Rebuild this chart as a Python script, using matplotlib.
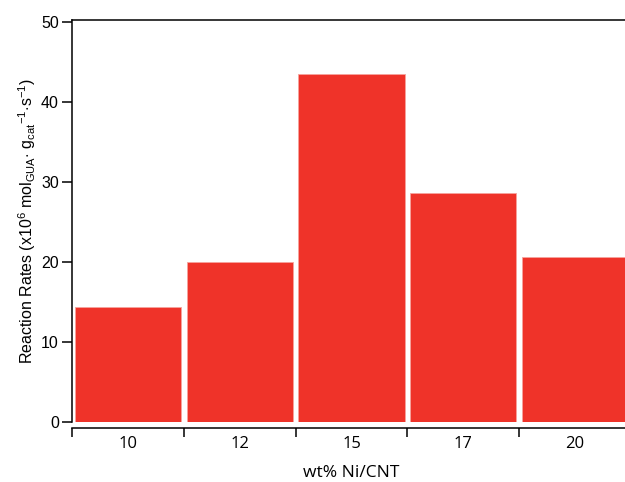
import matplotlib
matplotlib.use("Agg")
import matplotlib.pyplot as plt
import numpy as np

categories = ["10", "12", "15", "17", "20"]
rates = [14.3, 20.0, 43.4, 28.6, 20.6]

plt.rcParams['font.family'] = ['Liberation Sans', 'DejaVu Sans']
plt.rcParams['mathtext.fontset'] = 'custom'
plt.rcParams['mathtext.rm'] = 'Liberation Sans'
plt.rcParams['mathtext.it'] = 'Liberation Sans:italic'

fig = plt.figure(figsize=(6.25, 4.82), dpi=100)
ax = fig.add_axes([72/625, 60/482, 559/625, 402/482])

x = np.arange(len(categories))
ax.bar(x, rates, width=0.95, color='#EF3329', edgecolor='#F7A39D', linewidth=0.6, zorder=2)

ax.set_xlim(-0.5, len(categories) - 0.5)
ax.set_ylim(0, 50.2)

ax.spines['right'].set_visible(False)
for s in ['left', 'top', 'bottom']:
    ax.spines[s].set_linewidth(1.1)
ax.spines['bottom'].set_position(('outward', 4.3))

ax.set_yticks([0, 10, 20, 30, 40, 50])
ax.tick_params(axis='y', direction='out', length=7.5, width=1.1, labelsize=11.5, pad=2)

ax.set_xticks(np.arange(-0.5, len(categories), 1.0))
ax.set_xticklabels([])
ax.set_xticks(x, minor=True)
ax.set_xticklabels(categories, minor=True, fontsize=12, family='Open Sans')
ax.tick_params(axis='x', which='major', direction='out', length=6.5, width=1.1)
ax.tick_params(axis='x', which='minor', length=0, pad=6)

ax.set_xlabel("wt% Ni/CNT", fontsize=12.5, family='Open Sans', labelpad=9)
ax.set_ylabel(r"Reaction Rates (x10$^{6}$ mol$_{\mathrm{GUA}}$$\cdot$ g$_{\mathrm{cat}}$$^{\mathrm{-1}}$$\cdot$s$^{\mathrm{-1}}$)",
              fontsize=11.5, labelpad=2)

fig.savefig("out.png", dpi=100)
